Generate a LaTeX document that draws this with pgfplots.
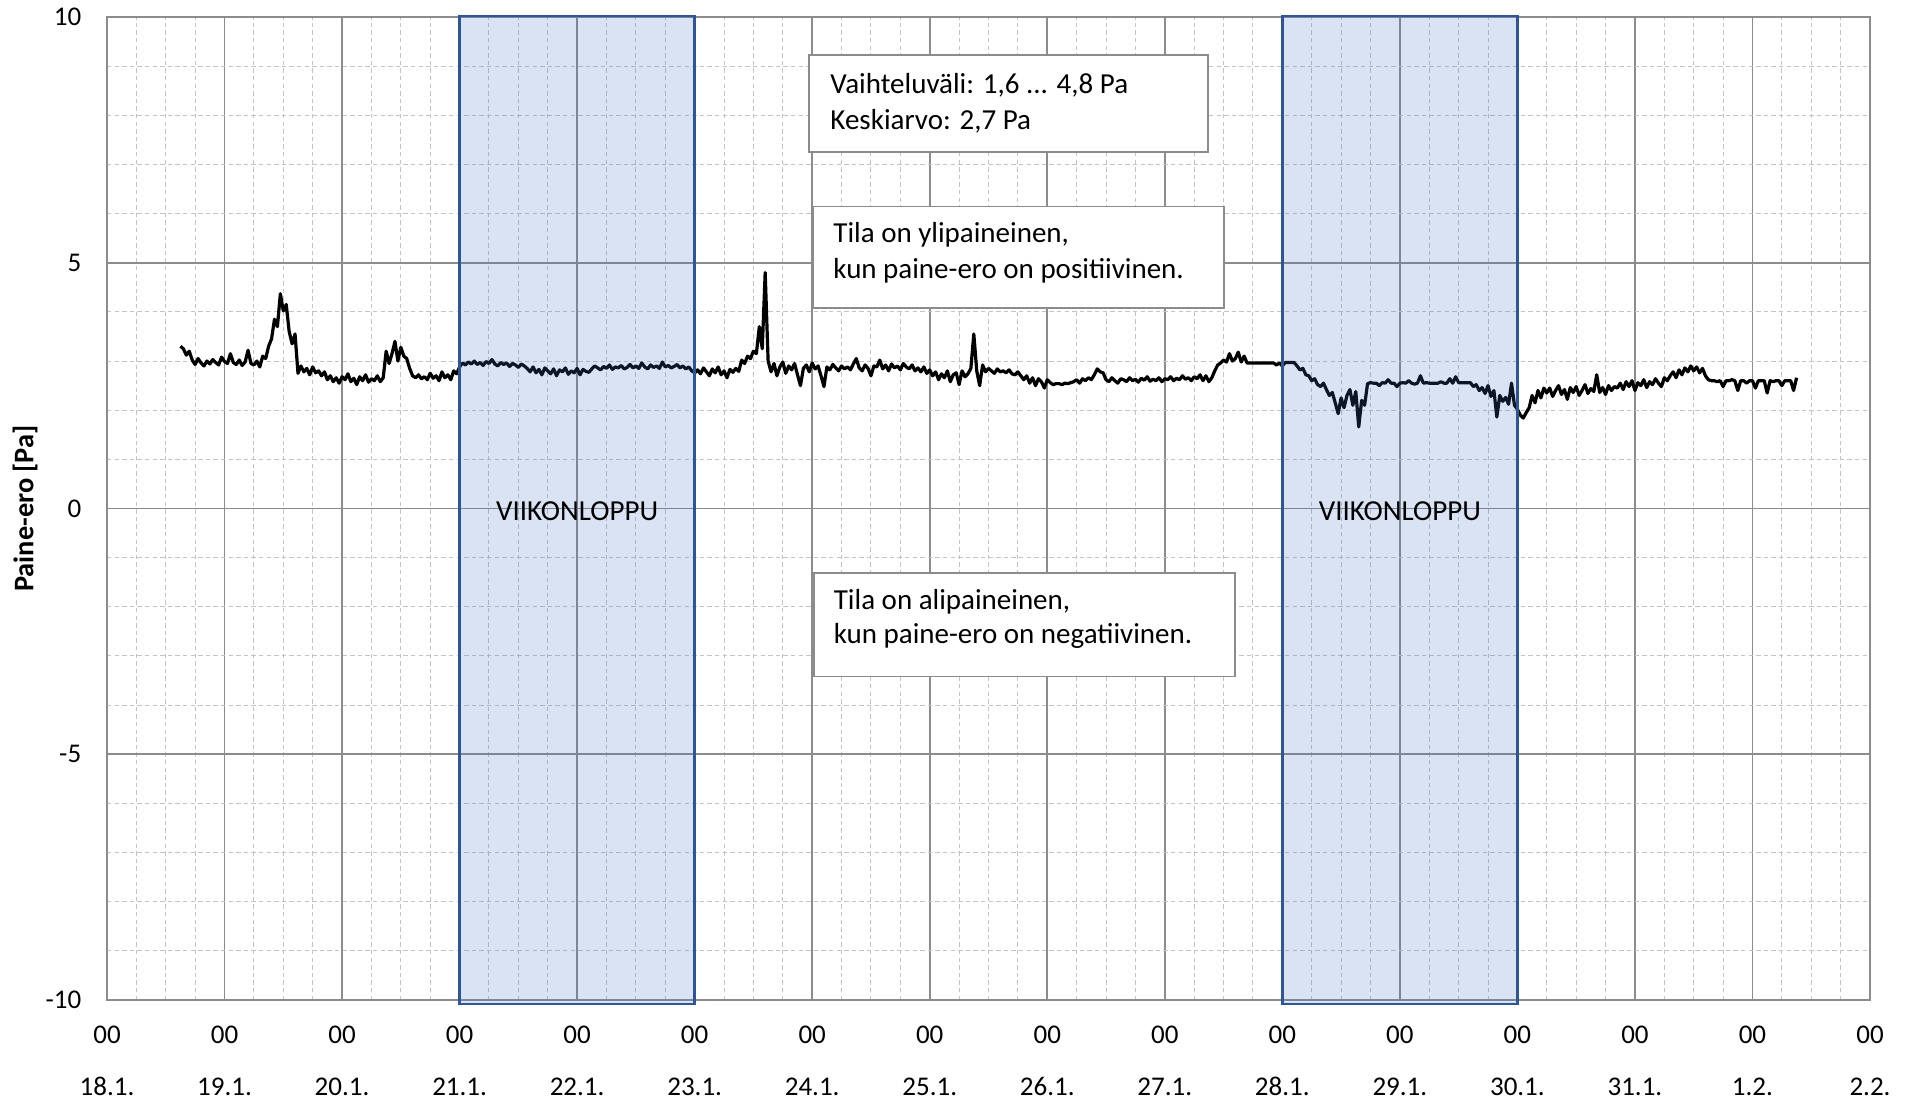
\documentclass[border=0pt]{standalone}
\usepackage{pgfplots}
\pgfplotsset{compat=1.18}
\usepackage{pgfplotstable}
\usepackage{fontspec}
\setmainfont{Carlito}
\definecolor{majgrid}{HTML}{8C8C8C}
\definecolor{mingrid}{HTML}{C4C4C4}
\definecolor{wkfill}{HTML}{4472C4}
\definecolor{wkedge}{HTML}{2F5597}
\definecolor{boxedge}{HTML}{8C8C8C}

% pressure difference [Pa], sampled every 0.025 day from 18.1. 15:00 (day 0.625)
\pgfplotstableread[header=false,row sep=\\]{
3.30\\3.25\\3.12\\3.20\\
3.02\\2.93\\3.05\\2.96\\2.90\\3.00\\2.94\\3.03\\2.97\\2.92\\3.08\\2.99\\2.95\\3.15\\2.97\\2.93\\3.02\\2.91\\2.98\\3.22\\2.95\\2.92\\3.00\\2.88\\
3.10\\3.05\\3.30\\3.45\\
3.85\\3.70\\4.37\\4.02\\4.15\\
3.60\\3.35\\3.55\\
2.75\\2.90\\2.78\\2.85\\2.72\\2.88\\2.76\\2.80\\2.70\\2.78\\
2.62\\2.70\\2.58\\2.66\\2.55\\2.68\\2.62\\2.74\\2.58\\2.65\\2.52\\2.68\\2.60\\2.72\\2.57\\2.64\\2.60\\2.70\\2.58\\2.66\\
3.20\\2.95\\3.15\\3.40\\3.00\\3.28\\3.10\\3.05\\2.85\\
2.70\\2.66\\2.72\\2.64\\2.68\\2.62\\2.75\\2.65\\2.70\\2.60\\2.78\\2.66\\2.72\\2.62\\2.80\\2.74\\2.88\\
2.96\\2.92\\2.98\\2.94\\3.00\\2.93\\2.97\\2.91\\2.99\\2.95\\3.03\\2.94\\2.90\\2.97\\2.93\\2.96\\2.89\\2.95\\2.92\\2.87\\2.94\\2.90\\
2.85\\2.78\\2.88\\2.76\\2.83\\2.72\\2.86\\2.80\\2.74\\2.84\\2.70\\2.82\\2.78\\2.86\\2.73\\2.80\\2.76\\2.85\\2.72\\2.83\\2.79\\2.77\\
2.84\\2.90\\2.86\\2.82\\2.89\\2.85\\2.92\\2.83\\2.88\\2.86\\2.91\\2.84\\2.87\\2.93\\2.86\\2.90\\2.85\\2.96\\2.88\\2.84\\2.92\\2.87\\2.90\\2.85\\2.98\\2.88\\2.91\\2.86\\2.89\\2.93\\2.86\\2.90\\2.84\\2.88\\2.80\\2.76\\
2.82\\2.74\\2.86\\2.78\\2.70\\2.84\\2.76\\2.88\\2.72\\2.80\\2.66\\2.83\\2.77\\2.85\\2.79\\
3.02\\2.95\\3.10\\3.05\\3.20\\3.15\\3.70\\3.25\\
4.80\\3.00\\
2.78\\2.95\\2.70\\2.88\\2.98\\2.75\\2.90\\2.82\\2.95\\2.72\\
2.50\\2.85\\2.92\\2.78\\2.96\\2.84\\2.90\\2.70\\2.48\\2.88\\
2.82\\2.93\\2.86\\2.80\\2.90\\2.84\\2.88\\2.82\\2.94\\3.05\\
2.86\\2.80\\2.92\\2.85\\2.70\\2.90\\2.88\\3.02\\2.84\\2.92\\
2.80\\2.94\\2.86\\2.90\\2.82\\2.95\\2.88\\2.84\\2.92\\2.80\\
2.86\\2.78\\2.88\\2.75\\2.82\\
2.70\\2.78\\2.62\\2.74\\2.66\\2.80\\2.58\\2.72\\2.76\\2.52\\2.80\\2.68\\2.74\\2.85\\
3.55\\2.80\\2.50\\
2.92\\2.78\\2.85\\2.80\\2.75\\2.84\\2.78\\2.80\\2.76\\2.82\\2.74\\2.72\\2.78\\2.70\\
2.62\\2.70\\2.55\\2.66\\2.50\\2.64\\2.58\\2.45\\2.62\\2.56\\2.52\\
2.54\\2.54\\2.52\\2.55\\2.54\\2.56\\
2.58\\2.62\\2.55\\2.64\\2.60\\2.66\\2.62\\2.72\\2.84\\2.78\\2.76\\
2.62\\2.58\\2.66\\2.60\\2.55\\2.64\\2.62\\2.58\\2.66\\2.60\\2.63\\2.57\\2.65\\2.61\\2.68\\2.59\\2.63\\2.60\\2.66\\2.58\\2.64\\2.62\\2.68\\2.60\\2.65\\2.62\\2.70\\2.63\\2.66\\2.60\\2.68\\2.64\\2.72\\2.60\\2.70\\2.58\\2.66\\
2.80\\2.92\\2.96\\
3.02\\2.98\\3.15\\3.00\\3.05\\3.18\\2.98\\3.10\\
2.96\\2.96\\2.96\\2.96\\2.96\\2.96\\2.96\\2.96\\2.96\\2.96\\2.92\\2.96\\2.90\\2.97\\2.97\\2.97\\2.97\\
2.90\\2.82\\2.85\\2.72\\2.70\\2.60\\2.64\\2.52\\2.48\\2.55\\
2.42\\2.30\\2.36\\2.15\\1.93\\2.25\\2.05\\2.30\\2.42\\2.10\\2.38\\1.66\\2.20\\2.10\\
2.54\\2.56\\2.55\\2.55\\2.50\\2.56\\2.55\\2.62\\2.55\\2.55\\2.48\\2.55\\2.56\\2.55\\2.60\\2.55\\2.53\\2.55\\2.70\\2.55\\2.56\\2.55\\2.55\\2.55\\2.55\\2.58\\2.55\\2.55\\2.64\\2.55\\2.68\\2.56\\2.56\\2.56\\2.56\\2.56\\
2.48\\2.52\\2.40\\2.46\\2.34\\2.50\\2.28\\2.40\\1.86\\2.30\\2.18\\2.26\\2.12\\2.55\\2.10\\2.02\\
1.90\\1.84\\1.95\\2.05\\
2.30\\2.15\\2.40\\2.25\\2.45\\
2.35\\2.45\\2.28\\2.40\\2.50\\2.32\\2.42\\2.22\\2.46\\2.36\\2.48\\2.30\\2.40\\2.52\\2.34\\2.44\\2.38\\2.72\\2.36\\2.46\\2.32\\2.50\\2.40\\2.48\\
2.45\\2.55\\2.42\\2.58\\2.48\\2.60\\2.40\\2.56\\2.50\\2.62\\2.46\\2.58\\2.52\\2.64\\2.55\\2.48\\2.66\\2.60\\
2.70\\2.78\\2.66\\2.82\\2.72\\2.86\\2.78\\2.90\\2.80\\2.88\\2.76\\2.85\\2.70\\2.62\\
2.60\\2.60\\2.58\\2.60\\2.48\\2.60\\2.60\\2.62\\2.60\\2.40\\2.60\\2.60\\2.55\\2.60\\2.60\\2.45\\2.60\\2.60\\2.60\\2.35\\2.60\\2.58\\2.60\\2.60\\2.50\\2.60\\2.60\\2.60\\2.40\\
2.66\\
}\paineero

\begin{document}
\begin{tikzpicture}
\useasboundingbox (-53.5pt,-50.5pt) rectangle (900.5pt,500pt);
\begin{axis}[
  scale only axis, width=881.5pt, height=491.5pt,
  at={(0,0)}, anchor=south west,
  xmin=0, xmax=15, ymin=-10, ymax=10,
  xtick={0,1,...,15},
  xticklabels={00,00,00,00,00,00,00,00,00,00,00,00,00,00,00,00},
  extra x ticks={0,1,...,15},
  extra x tick labels={18.1.,19.1.,20.1.,21.1.,22.1.,23.1.,24.1.,25.1.,26.1.,27.1.,28.1.,29.1.,30.1.,31.1.,1.2.,2.2.},
  extra x tick style={grid=none, xticklabel shift=43.3pt},
  xticklabel shift=17.2pt,
  minor x tick num=3,
  ytick={-10,-5,0,5,10},
  yticklabels={-10,-5,0,5,10},
  minor y tick num=4,
  grid=both,
  major grid style={draw=majgrid, line width=0.9pt, solid},
  minor grid style={draw=mingrid, line width=0.5pt, dash pattern=on 2.2pt off 1.6pt},
  axis line style={draw=majgrid, line width=0.9pt},
  major tick length=0pt, minor tick length=0pt,
  xticklabel style={anchor=center, inner sep=0pt, font=\fontsize{13.5}{16}\selectfont, text=black},
  yticklabel style={anchor=east, inner sep=0pt, xshift=-12.7pt, font=\fontsize{13.5}{16}\selectfont, text=black},
  ylabel={Paine-ero [Pa]},
  ylabel style={at={([xshift=-41pt]axis description cs:0,0.5)}, anchor=center, inner sep=0pt, font=\bfseries\fontsize{14.2}{17}\selectfont},
  clip=false,
]
\addplot[black, line width=1.6pt, line join=round, mark=none]
  table[x expr={0.625+0.025*\coordindex}, y index=0] {\paineero};

\draw[draw=wkedge, line width=1.3pt, fill=wkfill, fill opacity=0.2] (axis cs:3,10.02) rectangle (axis cs:5,-10.08);
\draw[draw=wkedge, line width=1.3pt, fill=wkfill, fill opacity=0.2] (axis cs:10,10.02) rectangle (axis cs:12,-10.08);
\node[font=\fontsize{14.5}{17}\selectfont, anchor=center, inner sep=0pt] at (axis cs:4,-0.05) {VIIKONLOPPU};
\node[font=\fontsize{14.5}{17}\selectfont, anchor=center, inner sep=0pt] at (axis cs:11,-0.05) {VIIKONLOPPU};

\draw[draw=boxedge, line width=0.75pt, fill=white] (axis cs:5.973,9.228) rectangle (axis cs:9.367,7.253);
\node[font=\fontsize{14.5}{17}\selectfont, anchor=base west, inner sep=0pt] at (axis cs:6.152,8.448) {Vaihteluväli: 1,6 ... 4,8 Pa};
\node[font=\fontsize{14.5}{17}\selectfont, anchor=base west, inner sep=0pt] at (axis cs:6.152,7.715) {Keskiarvo: 2,7 Pa};

\draw[draw=boxedge, line width=0.75pt, fill=white] (axis cs:6.007,6.14) rectangle (axis cs:9.504,4.08);
\node[font=\fontsize{14.5}{17}\selectfont, anchor=base west, inner sep=0pt] at (axis cs:6.177,5.416) {Tila on ylipaineinen,};
\node[font=\fontsize{14.5}{17}\selectfont, anchor=base west, inner sep=0pt] at (axis cs:6.177,4.684) {kun paine-ero on positiivinen.};

\draw[draw=boxedge, line width=0.75pt, fill=white] (axis cs:6.015,-1.312) rectangle (axis cs:9.598,-3.418);
\node[font=\fontsize{14.5}{17}\selectfont, anchor=base west, inner sep=0pt] at (axis cs:6.181,-2.057) {Tila on alipaineinen,};
\node[font=\fontsize{14.5}{17}\selectfont, anchor=base west, inner sep=0pt] at (axis cs:6.181,-2.751) {kun paine-ero on negatiivinen.};
\end{axis}
\end{tikzpicture}
\end{document}
